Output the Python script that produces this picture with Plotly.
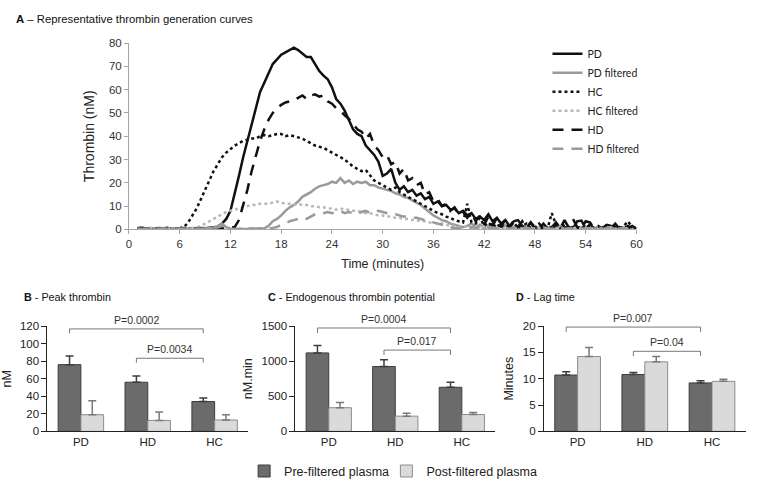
import plotly.graph_objects as go

# ---- panel A: thrombin generation curves (time in minutes, thrombin nM) ----
TIME_MIN = [
    1.0, 1.5, 2.0, 2.5, 3.0, 3.5, 4.0, 4.5, 5.0, 5.5,
    6.0, 6.5, 7.0, 7.5, 8.0, 8.5, 9.0, 9.5, 10.0, 10.5,
    11.0, 11.5, 12.0, 12.5, 13.0, 13.5, 14.0, 14.5, 15.0, 15.5,
    16.0, 16.5, 17.0, 17.5, 18.0, 18.5, 19.0, 19.5, 20.0, 20.5,
    21.0, 21.5, 22.0, 22.5, 23.0, 23.5, 24.0, 24.5, 25.0, 25.5,
    26.0, 26.5, 27.0, 27.5, 28.0, 28.5, 29.0, 29.5, 30.0, 30.5,
    31.0, 31.5, 32.0, 32.5, 33.0, 33.5, 34.0, 34.5, 35.0, 35.5,
    36.0, 36.5, 37.0, 37.5, 38.0, 38.5, 39.0, 39.5, 40.0, 40.5,
    41.0, 41.5, 42.0, 42.5, 43.0, 43.5, 44.0, 44.5, 45.0, 45.5,
    46.0, 46.5, 47.0, 47.5, 48.0, 48.5, 49.0, 49.5, 50.0, 50.5,
    51.0, 51.5, 52.0, 52.5, 53.0, 53.5, 54.0, 54.5, 55.0, 55.5,
    56.0, 56.5, 57.0, 57.5, 58.0, 58.5, 59.0, 59.5, 60.0,
]

pd_curve = [
    0.5, 0.8, 0.3, 0.6, 0.2, 0.5, 0.4, 0.7, 0.3, 0.5,
    0.4, 0.6, 0.3, 0.5, 0.4, 0.6, 0.5, 0.7, 0.8, 1.2,
    2.5, 4.5, 8, 15, 23, 31, 38, 46, 53, 59,
    63, 67, 71, 73, 75, 76, 77, 78, 77, 75.5,
    74, 74, 71, 68, 66, 64.5, 61, 56, 54, 51,
    47, 43, 41, 40, 36, 34, 32, 29, 23, 24,
    26, 20, 17, 18.5, 16, 17, 14.5, 15.5, 13, 14,
    11, 12, 10, 10.5, 8.5, 9, 7, 8, 6, 7,
    4.5, 5.5, 4, 6.5, 3.5, 5, 2.5, 4, 1.5, 3.5,
    4, 1.5, 0.5, 3, 1, 0.3, 2.5, 0.5, 1, 3,
    0.5, 4, 0.8, 0.3, 3.5, 3.8, 0.5, 2, 0.3, 1,
    0.5, 2, 1.5, 0.3, 1, 0.5, 1.5, 0.5, 0.3,
]

pd_filtered = [
    0.5, 0.8, 0.4, 0.6, 0.3, 0.7, 0.5, 0.4, 0.6, 0.3,
    0.5, 0.4, 0.6, 0.3, 0.5, 0.4, 0.6, 0.5, 0.8, 1.2,
    2.5, 1, 0.3, 0.2, 0.3, 0.2, 0.3, 0.5, 0.3, 0.5,
    0.5, 1.5, 3.5, 4.5, 6, 8, 9.5, 10.5, 12, 14,
    15, 16, 17.5, 18.5, 19, 19.5, 20.5, 20, 22, 20,
    21, 19.5, 20.5, 20, 20.5, 19, 19, 18, 17.5, 17,
    16.5, 15.5, 15, 14, 13.5, 12.5, 11.5, 10.5, 9, 7.5,
    6, 5, 4, 3.5, 2.5, 2, 1.5, 1, 1.5, 2.5,
    1, 2, 0.5, 1.5, 2, 0.5, 1, 2, 0.5, 1,
    1.5, 0.3, 1, 0.5, 1.5, 0.5, 1, 0.3, 1, 0.5,
    1.5, 0.5, 0.3, 1, 0.5, 1, 0.3, 0.8, 0.5, 1,
    0.3, 0.5, 1, 0.3, 0.5, 0.8, 0.3, 0.5, 0.3,
]

hc_curve = [
    0.3, 0.5, 0.4, 0.3, 0.6, 0.4, 0.3, 0.5, 0.4, 0.3,
    0.5, 1, 3, 6, 9, 13, 17, 21, 25, 28,
    31, 33, 34.5, 36, 37, 38, 38.5, 39, 39, 40,
    40.5, 40, 40.5, 41, 41, 40, 40.5, 40, 39.5, 39,
    38, 37, 36, 35.5, 35, 34, 33, 32, 31, 30,
    28.5, 27, 26, 25, 25.5, 23, 21, 20, 19, 18,
    17, 18, 16, 15, 14, 13, 12, 11, 10, 9,
    8, 7, 6.5, 5.5, 5, 4, 3.5, 3, 11, 3,
    2.5, 5, 1.5, 3, 1, 2.5, 0.5, 2, 1, 3,
    0.5, 1.5, 2.5, 0.5, 1, 0.3, 1, 0.5, 7, 2,
    0.5, 1, 0.3, 1, 0.5, 1.5, 0.3, 2, 0.5, 0.3,
    1, 0.3, 0.5, 1, 0.3, 1.5, 3.5, 1, 0.5,
]

hc_filtered = [
    0.3, 0.4, 0.3, 0.5, 0.3, 0.4, 0.3, 0.4, 0.3, 0.5,
    0.3, 0.4, 0.3, 0.5, 0.8, 1.5, 2.5, 3.5, 4.5, 5.5,
    6.5, 7.5, 8, 8.5, 9, 9.5, 10, 10.5, 10.5, 11,
    11, 11, 11.5, 12, 11.5, 11, 11, 10.5, 11, 10.5,
    10.5, 10, 10, 9.5, 9.5, 9, 9, 8.5, 9, 8.5,
    8.5, 8, 8, 7.5, 7, 7, 6.5, 6, 6, 5.5,
    5.5, 5, 5, 4.5, 4.5, 4, 4, 3.5, 3.5, 3,
    3, 2.5, 2.5, 2, 1.5, 1.5, 1, 1, 1.5, 0.5,
    1, 0.5, 1.5, 0.3, 1, 0.5, 0.3, 1, 0.5, 0.3,
    0.8, 0.3, 0.5, 1, 0.3, 0.5, 0.3, 0.8, 0.3, 0.5,
    0.3, 0.8, 0.3, 0.5, 0.3, 0.5, 0.8, 0.3, 0.5, 0.3,
    0.5, 0.3, 0.8, 0.3, 0.5, 0.3, 0.5, 0.8, 0.3,
]

hd_curve = [
    0.3, 0.5, 0.2, 0.4, 0.3, 0.5, 0.2, 0.4, 0.3, 0.5,
    0.3, 0.4, 0.2, 0.5, 0.3, 0.4, 0.3, 0.5, 0.4, 0.3,
    0.4, 0.5, 0.6, 1, 4, 10, 17, 25, 32, 38,
    43, 47, 50, 52, 53.5, 54.5, 55, 55.5, 56.5, 57.5,
    56, 57.5, 58, 57, 57.5, 55, 54, 52, 51, 49,
    47.5, 45, 43, 42, 39, 41, 36, 34, 31, 32,
    28, 29, 24, 26, 21, 22, 19, 20, 15, 16,
    12, 13, 10, 11, 8, 9.5, 6.5, 7.5, 5, 7,
    3.5, 6, 2, 5.5, 1.5, 5, 1, 4.5, 0.5, 4,
    1, 3.5, 0.5, 3, 0.3, 2.5, 0.5, 3, 0.3, 2,
    4, 1, 0.5, 4.5, 1, 0.3, 3.5, 3, 0.5, 1.5,
    0.3, 2, 0.5, 2.5, 0.3, 1, 0.5, 1.5, 0.3,
]

hd_filtered = [
    0.3, 0.2, 0.4, 0.3, 0.2, 0.4, 0.3, 0.2, 0.3, 0.4,
    0.3, 0.2, 0.4, 0.3, 0.2, 0.3, 0.4, 0.3, 0.5, 0.8,
    1.5, 0.8, 0.3, 0.2, 0.3, 0.2, 0.3, 0.2, 0.3, 0.2,
    0.3, 0.4, 0.6, 1, 2, 2.5, 3.5, 4, 4.5, 5,
    4.5, 5.5, 6.5, 7, 7, 7.5, 7, 7.5, 8, 7,
    7.5, 7, 6.5, 7.5, 8, 7, 7.5, 8, 7.5, 7,
    6.5, 6.5, 6, 5.5, 5.5, 5, 5, 4.5, 4, 3.5,
    3, 2.5, 2, 1.5, 1, 0.5, 0.5, 0.3, 0.5, 1,
    0.5, 1, 0.3, 0.8, 0.5, 0.3, 1, 0.5, 0.3, 0.8,
    0.3, 0.5, 0.8, 0.3, 0.5, 0.3, 0.8, 0.5, 0.3, 0.5,
    0.8, 0.3, 0.5, 0.3, 0.8, 0.5, 0.3, 0.5, 0.3, 0.8,
    0.3, 0.5, 0.3, 0.8, 0.3, 0.5, 0.3, 0.5, 0.3,
]

# ---- panels B-D: bar charts ----
GROUPS = ["PD", "HD", "HC"]

peak_pre = [76, 56, 34]
peak_pre_err = [10, 7, 4]
peak_post = [19, 12.5, 13]
peak_post_err = [16, 9.5, 6]

etp_pre = [1117, 923, 628]
etp_pre_err = [106, 97, 73]
etp_post = [337, 217, 240]
etp_post_err = [74, 41, 28]

lag_pre = [10.7, 10.8, 9.2]
lag_pre_err = [0.6, 0.4, 0.4]
lag_post = [14.2, 13.2, 9.5]
lag_post_err = [1.7, 1.0, 0.4]

P_LABELS = {
    "B": ("P=0.0002", "P=0.0034"),
    "C": ("P=0.0004", "P=0.017"),
    "D": ("P=0.007", "P=0.04"),
}

FONT = "Liberation Sans, Arial, sans-serif"
LEG_FONT = "Lato, Liberation Sans, sans-serif"
BLACK = "#111111"
GRAY = "#9a9a9a"
GRAY_DOT = "#b8b8b8"
DARK_BAR = "#6b6b6b"
LIGHT_BAR = "#dadada"

fig = go.Figure()

curves = [
    ("PD", pd_curve, BLACK, "solid"),
    ("PD filtered", pd_filtered, GRAY, "solid"),
    ("HC", hc_curve, BLACK, "dot"),
    ("HC filtered", hc_filtered, GRAY_DOT, "dot"),
    ("HD", hd_curve, BLACK, "11px,8px"),
    ("HD filtered", hd_filtered, GRAY, "11px,8px"),
]
for name, vals, color, dash in curves:
    fig.add_trace(go.Scatter(
        x=TIME_MIN, y=vals, mode="lines", name=name,
        line=dict(color=color, width=2.5, dash=dash),
        xaxis="x", yaxis="y", legend="legend",
    ))

panels = [
    ("B", "x2", "y2", 120, peak_pre, peak_pre_err, peak_post, peak_post_err),
    ("C", "x3", "y3", 1500, etp_pre, etp_pre_err, etp_post, etp_post_err),
    ("D", "x4", "y4", 20, lag_pre, lag_pre_err, lag_post, lag_post_err),
]
for i, (key, xa, ya, ymax, pre, pre_err, post, post_err) in enumerate(panels):
    first = i == 0
    fig.add_trace(go.Bar(
        x=GROUPS, y=pre, name="Pre-filtered plasma", xaxis=xa, yaxis=ya,
        marker=dict(color=DARK_BAR, line=dict(color="#3c3c3c", width=1)),
        error_y=dict(type="data", symmetric=False, array=pre_err,
                     arrayminus=[0, 0, 0], color="#3c3c3c", thickness=1.5, width=4),
        showlegend=first, legend="legend2",
    ))
    fig.add_trace(go.Bar(
        x=GROUPS, y=post, name="Post-filtered plasma", xaxis=xa, yaxis=ya,
        marker=dict(color=LIGHT_BAR, line=dict(color="#8c8c8c", width=1)),
        error_y=dict(type="data", symmetric=False, array=post_err,
                     arrayminus=[0, 0, 0], color="#7a7a7a", thickness=1.5, width=4),
        showlegend=first, legend="legend3",
    ))

# significance brackets: (y of bracket, tick drop, y of text) per panel
brackets = {
    "B": [(116.7, 5, 126.5), (83.3, 5, 93.3)],
    "C": [(1472, 70, 1595), (1157, 70, 1280)],
    "D": [(19.8, 0.9, 21.6), (15.2, 0.9, 16.9)],
}
off = -0.17  # centre of the dark (pre-filtered) bar in each group
shapes, annotations = [], []
for key, xa, ya, ymax, *_ in panels:
    spans = [(0 + off, 2 + off), (1 + off, 2 + off)]
    for (x0, x1), (yb, drop, yt), label in zip(spans, brackets[key], P_LABELS[key]):
        for seg in [(x0, yb, x1, yb), (x0, yb, x0, yb - drop), (x1, yb, x1, yb - drop)]:
            shapes.append(dict(type="line", xref=xa, yref=ya,
                               x0=seg[0], y0=seg[1], x1=seg[2], y1=seg[3],
                               line=dict(color="#777777", width=1)))
        # text sits above the axis range, so place it on the domain scale
        annotations.append(dict(x=(x0 + x1) / 2, y=yt / ymax, xref=xa,
                                yref=ya + " domain", xanchor="center", yanchor="middle",
                                text=label, showarrow=False,
                                font=dict(size=10.5, color="#333333", family=FONT)))

titles = [
    (11 / 760, 1 - 13 / 493, "<b>A</b> – Representative thrombin generation curves", 11.3),
    (19 / 760, 1 - 298 / 493, "<b>B</b> - Peak thrombin", 10.8),
    (266 / 760, 1 - 298 / 493, "<b>C</b> - Endogenous thrombin potential", 10.8),
    (517 / 760, 1 - 298 / 493, "<b>D</b> - Lag time", 10.8),
]
for x, y, text, size in titles:
    annotations.append(dict(x=x, y=y, xref="paper", yref="paper", text=text,
                            showarrow=False, xanchor="left", yanchor="middle",
                            font=dict(size=size, color="#111111", family=FONT)))

top_axis = dict(showline=True, linecolor="#a6a6a6", linewidth=1, ticks="outside",
                tickcolor="#a6a6a6", ticklen=4, showgrid=False, zeroline=False,
                tickfont=dict(size=11.5, color="#333333", family=FONT))

bar_x = dict(showline=True, linecolor="#222222", linewidth=1.2, ticks="",
             showgrid=False, zeroline=False, range=[-0.5, 2.5],
             tickfont=dict(size=11.5, color="#222222", family=FONT))
bar_y = dict(showline=True, linecolor="#222222", linewidth=1.2, ticks="outside",
             tickcolor="#222222", ticklen=5, showgrid=False, zeroline=False,
             tickfont=dict(size=11.5, color="#222222", family=FONT))
bar_dom_y = [1 - 436 / 493, 1 - 328 / 493]
bottom_legend = dict(orientation="h", y=1 - 477 / 493, xanchor="left",
                     yanchor="middle", bgcolor="rgba(0,0,0,0)",
                     font=dict(size=12.5, family=FONT, color="#222222"))

fig.update_layout(
    width=760, height=493,
    margin=dict(l=0, r=0, t=0, b=0),
    paper_bgcolor="white", plot_bgcolor="white",
    font=dict(family=FONT, color="#222222"),
    barmode="group", bargap=0.32, bargroupgap=0,
    xaxis=dict(top_axis, domain=[127.5 / 760, 641 / 760], range=[0, 60], dtick=6,
               anchor="y", title=dict(text="Time (minutes)", standoff=10,
                                      font=dict(size=12.5, family=FONT, color="#222222"))),
    yaxis=dict(top_axis, domain=[1 - 229 / 493, 1 - 38 / 493], range=[0, 80], dtick=10,
               anchor="x", title=dict(text="Thrombin (nM)", standoff=10,
                                      font=dict(size=14, family=FONT, color="#222222"))),
    xaxis2=dict(bar_x, domain=[45 / 760, 248 / 760], anchor="y2"),
    yaxis2=dict(bar_y, domain=bar_dom_y, range=[0, 120], dtick=20, anchor="x2",
                title=dict(text="nM", standoff=6, font=dict(size=12.5, family=FONT))),
    xaxis3=dict(bar_x, domain=[296 / 760, 498 / 760], anchor="y3"),
    yaxis3=dict(bar_y, domain=bar_dom_y, range=[0, 1500], dtick=500, anchor="x3",
                title=dict(text="nM.min", standoff=6, font=dict(size=12.5, family=FONT))),
    xaxis4=dict(bar_x, domain=[547.5 / 760, 751.5 / 760], anchor="y4"),
    yaxis4=dict(bar_y, domain=bar_dom_y, range=[0, 20], dtick=5, anchor="x4",
                title=dict(text="Minutes", standoff=6, font=dict(size=12.5, family=FONT))),
    legend=dict(x=551 / 760, y=1 - 34 / 493, xanchor="left", yanchor="top",
                bgcolor="rgba(0,0,0,0)", tracegroupgap=0, itemwidth=30,
                font=dict(size=10.5, family=LEG_FONT, color="#222222")),
    legend2=dict(bottom_legend, x=244 / 760),
    legend3=dict(bottom_legend, x=388 / 760),
    shapes=shapes,
    annotations=annotations,
)

# drop the default page margin so the 760x493 figure sits at the window origin
fig.write_html("out.html", config={"displayModeBar": False},
               post_script="document.body.style.margin='0';")
